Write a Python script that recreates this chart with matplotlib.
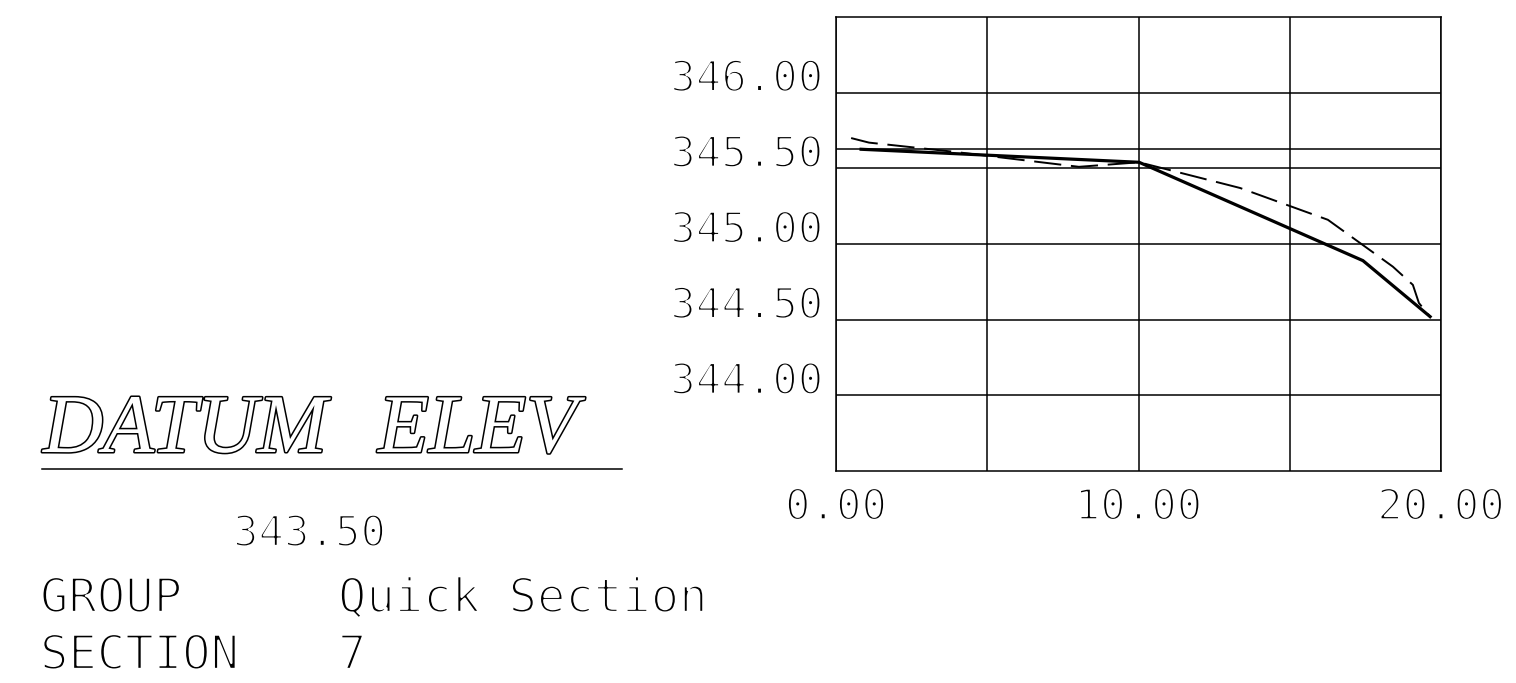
import matplotlib.pyplot as plt
import matplotlib.patheffects as pe

# Ground profile (solid) and design profile (dashed), offset vs elevation
ground_x = [0.83, 10.02, 17.42, 19.64]
ground_y = [345.626, 345.54, 344.89, 344.52]

design_x = [0.50, 1.09, 3.87, 8.03, 10.02, 13.36, 16.26, 18.41, 19.07, 19.27, 19.64]
design_y = [345.70, 345.67, 345.61, 345.51, 345.54, 345.37, 345.16, 344.85, 344.73, 344.61, 344.52]

water_level = 345.625

x_ticks = [0, 5, 10, 15, 20]
x_labels = ['0.00', '10.00', '20.00']
x_label_pos = [0, 10, 20]
y_ticks = [344.0, 344.5, 345.0, 345.5, 346.0]
y_labels = ['344.00', '344.50', '345.00', '345.50', '346.00']

datum = '343.50'
group_name = 'Quick Section'
section_no = '7'

MONO = 'DejaVu Sans Mono'
W, H = 1516, 683

# thin the glyph strokes a little to look like the single stroke CAD font
thin = [pe.Normal(), pe.Stroke(linewidth=1.7, foreground='white')]

fig = plt.figure(figsize=(W / 100, H / 100), dpi=100)
ax = fig.add_axes([836 / W, 1 - 471 / H, 605 / W, 454 / H])

ax.set_xlim(0, 20)
ax.set_ylim(343.5, 346.5)

# grid
for x in x_ticks:
    ax.axvline(x, color='black', lw=1.1)
for y in y_ticks:
    ax.axhline(y, color='black', lw=1.1)
ax.axhline(water_level, color='black', lw=1.1)

ax.plot(ground_x, ground_y, color='black', lw=2.3, solid_joinstyle='miter')
ax.plot(design_x, design_y, color='black', lw=1.4, dashes=(14, 5))

ax.set_xticks([])
ax.set_yticks([])
for s in ax.spines.values():
    s.set_color('black')
    s.set_linewidth(1.1)

# tick labels drawn as text like the CAD output
for v, lab in zip(y_ticks, y_labels):
    ax.text(-0.42, v + 0.01, lab, ha='right', va='baseline', fontsize=30.5,
            family=MONO, clip_on=False, path_effects=thin)
for v, lab in zip(x_label_pos, x_labels):
    ax.text(v, 343.18, lab, ha='center', va='baseline', fontsize=30.5,
            family=MONO, clip_on=False, path_effects=thin)

# left hand annotation block
outline = [pe.withStroke(linewidth=2.2, foreground='black')]
fig.text(43 / W, 1 - 452 / H, 'DATUM', fontsize=60, family='Liberation Serif',
         style='italic', color='white', va='baseline', path_effects=outline)
fig.text(378 / W, 1 - 452 / H, 'ELEV', fontsize=60, family='Liberation Serif',
         style='italic', color='white', va='baseline', path_effects=outline)
fig.add_artist(plt.Line2D([42 / W, 622 / W], [1 - 469 / H, 1 - 469 / H],
                          color='black', lw=1.1))
fig.text(233 / W, 1 - 546 / H, datum, fontsize=30.5, family=MONO, va='baseline',
         path_effects=thin)
fig.text(40 / W, 1 - 612 / H, 'GROUP', fontsize=34, family=MONO, va='baseline',
         path_effects=thin)
fig.text(338 / W, 1 - 612 / H, group_name, fontsize=34, family=MONO, va='baseline',
         path_effects=thin)
fig.text(40 / W, 1 - 669 / H, 'SECTION', fontsize=34, family=MONO, va='baseline',
         path_effects=thin)
fig.text(338 / W, 1 - 669 / H, section_no, fontsize=34, family=MONO, va='baseline',
         path_effects=thin)

fig.savefig('out.png', dpi=100)
